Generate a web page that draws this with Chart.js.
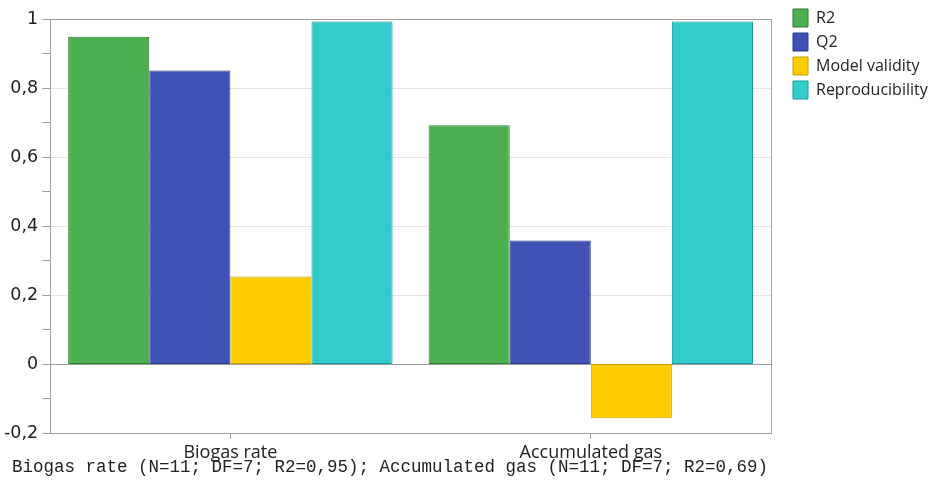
<!DOCTYPE html>
<html>
<head>
<meta charset="utf-8">
<script src="https://cdn.jsdelivr.net/npm/chart.js@4.4.1/dist/chart.umd.min.js"></script>
<style>
  html, body { margin: 0; padding: 0; background: #fff; }
  #wrap { width: 932px; height: 480px; }
</style>
</head>
<body>
<div id="wrap"><canvas id="chart" width="932" height="480"></canvas></div>

<script>
// data
var categories = ["Biogas rate", "Accumulated gas"];
var r2_vals = [0.949, 0.692];
var q2_vals = [0.851, 0.358];
var validity_vals = [0.254, -0.157];
var repro_vals = [0.993, 0.993];
var footer_text = "Biogas rate (N=11; DF=7; R2=0,95); Accumulated gas (N=11; DF=7; R2=0,69)";

// box round the plot area + the footer line under the axis
var frame_plugin = {
	id: 'frame',
	afterDraw: function(chart) {
		var a = chart.chartArea;
		var ctx = chart.ctx;
		ctx.save();
		ctx.strokeStyle = '#a0a0a0';
		ctx.lineWidth = 1;
		ctx.strokeRect(Math.round(a.left) + 0.5, Math.round(a.top) + 0.5,
			Math.round(a.right - a.left), Math.round(a.bottom - a.top));

		// footer is wider than the axis, so it is drawn here and not as axis title
		ctx.fillStyle = '#222';
		ctx.font = '17.5px "Liberation Mono"';
		ctx.textAlign = 'left';
		ctx.textBaseline = 'middle';
		ctx.fillText(footer_text, 12, 467);
		ctx.restore();
	}
};

var chart_conf = {
	type: 'bar',
	data: {
		labels: categories,
		datasets: [
			{ label: 'R2', data: r2_vals, backgroundColor: '#4caf50', borderColor: '#2e7d32' },
			{ label: 'Q2', data: q2_vals, backgroundColor: '#3f51b5', borderColor: '#2c3a8c' },
			{ label: 'Model validity', data: validity_vals, backgroundColor: '#ffcc00', borderColor: '#c9a000' },
			{ label: 'Reproducibility', data: repro_vals, backgroundColor: '#33cccc', borderColor: '#1b9a9a' }
		]
	},
	options: {
		responsive: false,
		animation: false,
		layout: { padding: { top: 3, left: 0, right: 0, bottom: 13 } },
		datasets: { bar: { categoryPercentage: 0.9, barPercentage: 1.0, borderWidth: 1, borderSkipped: false } },
		plugins: {
			tooltip: { enabled: false },
			legend: {
				position: 'right',
				align: 'start',
				maxWidth: 145,
				labels: {
					boxWidth: 15,
					boxHeight: 18,
					padding: 6,
					color: '#222',
					font: { family: 'Open Sans', size: 16 }
				}
			}
		},
		scales: {
			x: {
				grid: { drawOnChartArea: false, offset: false, drawTicks: true, tickLength: 6, tickColor: '#a0a0a0' },
				border: { color: '#a0a0a0' },
				ticks: { color: '#222', font: { family: 'Open Sans', size: 18, lineHeight: 1 }, padding: 5 }
			},
			y: {
				min: -0.2,
				max: 1,
				border: { color: '#a0a0a0' },
				grid: {
					tickLength: 8,
					color: function(c) {
						var v = Math.round(c.tick.value * 10);
						if (v === 0) return '#a0a0a0';
						if (v % 2 !== 0) return 'rgba(0,0,0,0)';
						return '#e4e4e4';
					},
					tickColor: '#a0a0a0'
				},
				ticks: {
					stepSize: 0.1,
					autoSkip: false,
					color: '#222',
					padding: 4,
					font: { family: 'DejaVu Sans', size: 17.5, lineHeight: 1.72 },
					callback: function(value) {
						var v = Math.round(value * 10);
						if (v % 2 !== 0) return '';
						return String(v / 10).replace('.', ',');
					}
				}
			},
			// empty axis, only keeps a gap between plot and legend
			gap: {
				type: 'linear',
				position: 'right',
				grid: { display: false },
				border: { display: false },
				ticks: { display: false },
				afterFit: function(scale) { scale.width = 16; }
			}
		}
	},
	plugins: [frame_plugin]
};

var chart1 = new Chart(document.getElementById("chart"), chart_conf);
</script>
</body>
</html>
